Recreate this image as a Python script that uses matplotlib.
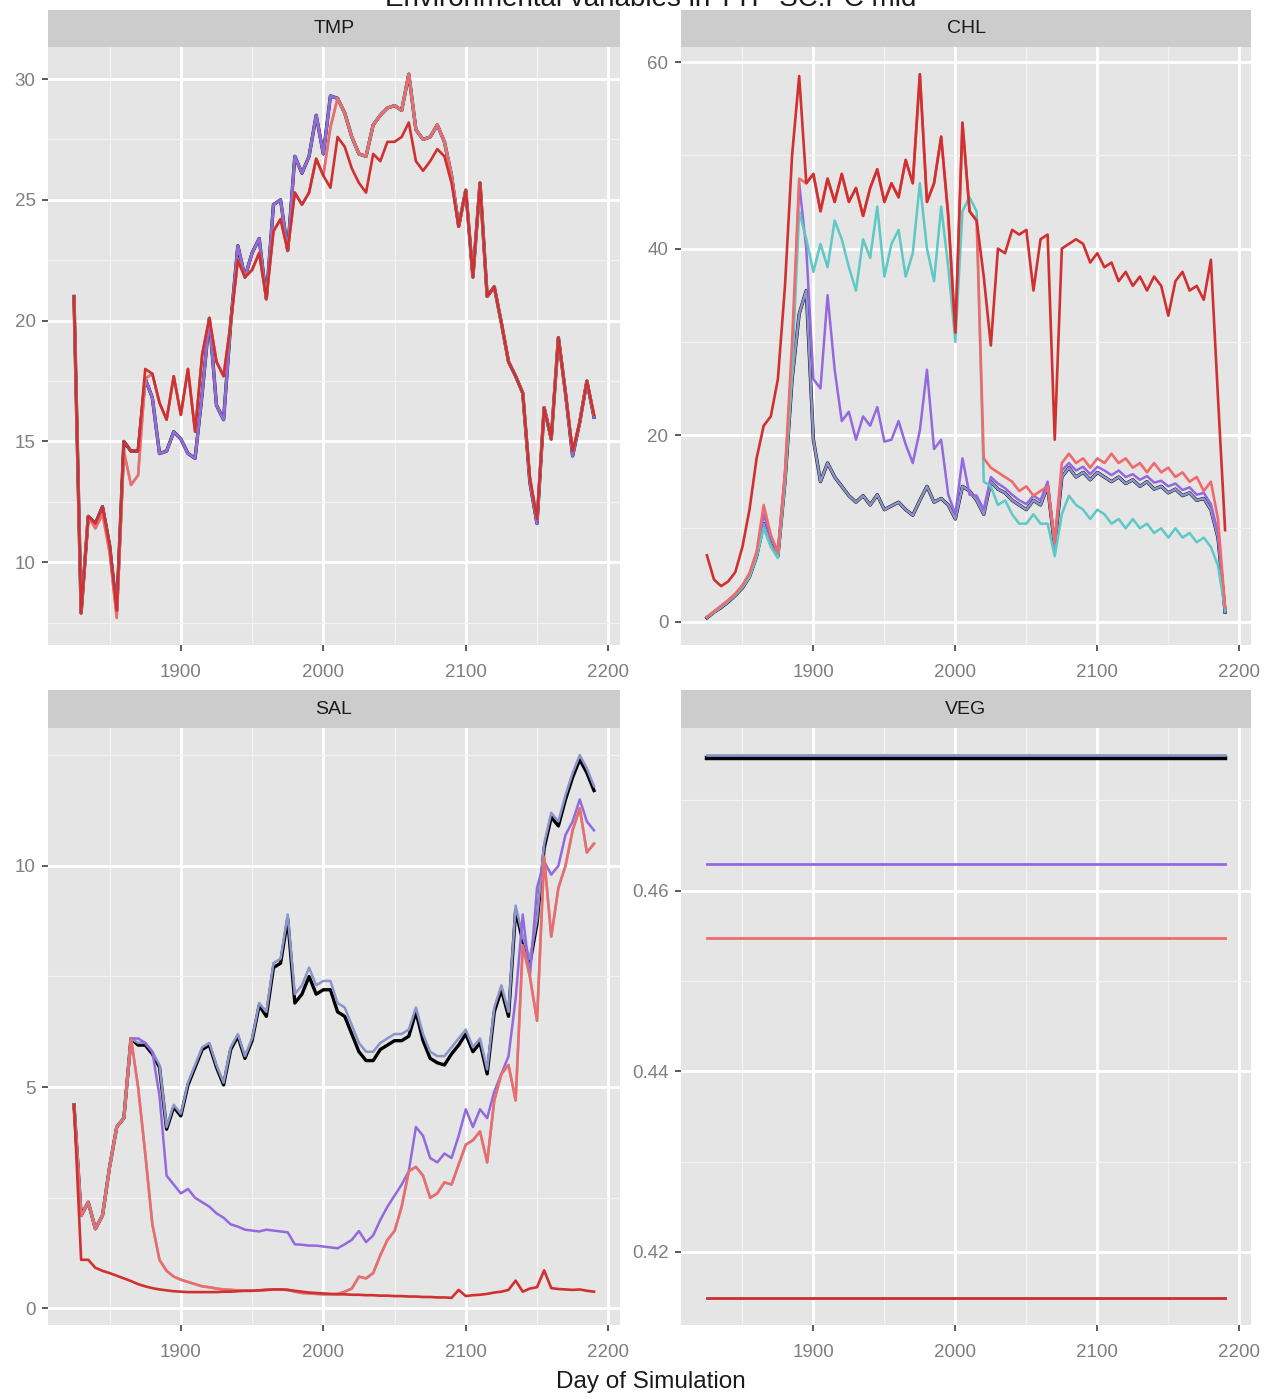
import matplotlib
matplotlib.use("Agg")
from matplotlib import pyplot as plt
from matplotlib.ticker import FixedLocator, FormatStrFormatter

plt.rcParams['font.family'] = ['Liberation Sans', 'DejaVu Sans']

# day of simulation, every 5 days
days = list(range(1825, 2195, 5))

# TMP
tmp_red = [21.0, 7.9, 11.9, 11.6, 12.3, 10.7, 8.0, 15.0, 14.6, 14.6,
           18.0, 17.8, 16.6, 15.9, 17.7, 16.1, 18.0, 15.4, 18.6, 20.1,
           18.3, 17.7, 19.9, 22.5, 21.8, 22.1, 22.8, 20.9, 23.7, 24.2,
           22.9, 25.3, 24.8, 25.3, 26.7, 26.0, 25.5, 27.6, 27.2, 26.3,
           25.7, 25.3, 26.9, 26.6, 27.4, 27.4, 27.6, 28.2, 26.6, 26.2,
           26.6, 27.1, 26.8, 25.7, 23.9, 25.4, 21.8, 25.7, 21.0, 21.4,
           19.9, 18.3, 17.7, 17.0, 13.5, 11.8, 16.4, 15.1, 19.3, 17.0,
           14.6, 15.8, 17.5, 16.1]
tmp_salmon = [21.0, 7.9, 11.9, 11.4, 12.0, 10.4, 7.7, 14.6, 13.2, 13.6,
              17.6, 17.8, 16.6, 15.9, 17.7, 16.1, 18.0, 15.4, 18.6, 20.1,
              18.3, 17.7, 19.9, 22.5, 21.8, 22.1, 22.8, 20.9, 23.7, 24.2,
              22.9, 25.3, 24.8, 25.3, 26.7, 26.0, 28.0, 29.2, 28.6, 27.6,
              26.9, 26.8, 28.1, 28.5, 28.8, 28.9, 28.7, 30.2, 27.9, 27.5,
              27.6, 28.1, 27.4, 26.0, 23.9, 25.4, 21.8, 25.7, 21.0, 21.4,
              19.9, 18.3, 17.7, 17.0, 13.5, 11.8, 16.4, 15.1, 19.3, 17.0,
              14.6, 15.8, 17.5, 16.1]
tmp_purple = [21.0, 7.9, 11.9, 11.6, 12.3, 10.7, 8.0, 15.0, 14.6, 14.6,
              17.6, 16.8, 14.5, 14.6, 15.4, 15.1, 14.5, 14.3, 17.0, 20.1,
              16.5, 15.9, 19.9, 23.1, 21.8, 22.8, 23.4, 20.9, 24.8, 25.0,
              22.9, 26.8, 26.1, 26.8, 28.5, 26.9, 29.3, 29.2, 28.6, 27.6,
              26.9, 26.8, 28.1, 28.5, 28.8, 28.9, 28.7, 30.2, 27.9, 27.5,
              27.6, 28.1, 27.4, 26.0, 23.9, 25.4, 21.8, 25.7, 21.0, 21.4,
              19.9, 18.3, 17.7, 17.0, 13.3, 11.6, 16.4, 15.1, 19.3, 17.0,
              14.4, 15.8, 17.5, 16.0]

# CHL
chl_red = [7.1, 4.5, 3.8, 4.3, 5.3, 8.0, 12.0, 17.5, 21.0, 22.0,
           26.0, 36.0, 50.0, 58.5, 47.0, 48.0, 44.0, 47.5, 45.0, 48.0,
           45.0, 46.5, 43.5, 46.5, 48.5, 45.0, 47.0, 45.5, 49.5, 47.0,
           58.7, 45.0, 47.0, 52.0, 43.5, 31.0, 53.5, 44.0, 43.0, 37.0,
           29.6, 40.0, 39.5, 42.0, 41.5, 42.0, 35.5, 41.0, 41.5, 19.5,
           40.0, 40.5, 41.0, 40.5, 38.5, 39.5, 38.0, 38.5, 36.5, 37.5,
           36.0, 37.0, 35.5, 37.0, 36.0, 32.8, 36.5, 37.5, 35.5, 36.0,
           34.5, 38.8, 24.0, 9.8]
chl_salmon = [0.5, 1.1, 1.7, 2.3, 3.0, 3.9, 5.2, 7.5, 12.5, 9.3,
              7.4, 16.0, 30.0, 47.5, 47.0, 48.0, 44.0, 47.5, 45.0, 48.0,
              45.0, 46.5, 43.5, 46.5, 48.5, 45.0, 47.0, 45.5, 49.5, 47.0,
              58.7, 45.0, 47.0, 52.0, 43.5, 31.0, 53.5, 44.0, 43.0, 17.5,
              16.5, 16.0, 15.5, 15.0, 14.0, 14.5, 13.5, 14.0, 14.5, 8.5,
              17.0, 18.0, 17.0, 17.5, 16.5, 17.5, 17.0, 18.0, 17.0, 17.5,
              16.5, 17.0, 16.0, 17.0, 16.0, 16.5, 15.5, 16.0, 15.0, 15.5,
              14.0, 15.0, 11.0, 1.5]
chl_cyan = [0.5, 1.0, 1.6, 2.2, 2.9, 3.7, 4.8, 7.0, 10.0, 8.0,
            6.8, 15.0, 27.0, 44.0, 41.0, 37.5, 40.5, 38.0, 43.0, 41.0,
            38.0, 35.5, 41.0, 39.0, 44.5, 37.0, 40.5, 42.0, 37.0, 39.5,
            47.0, 40.0, 36.5, 44.5, 38.0, 30.0, 44.0, 45.5, 44.0, 15.0,
            14.5, 12.5, 13.0, 11.5, 10.5, 10.5, 11.5, 10.5, 10.5, 7.0,
            11.5, 13.5, 12.5, 12.0, 11.0, 12.0, 11.5, 10.5, 11.0, 10.0,
            11.0, 10.0, 10.5, 9.5, 10.0, 9.0, 10.0, 9.0, 9.5, 8.5,
            9.0, 8.0, 6.0, 1.2]
chl_purple = [0.5, 1.0, 1.6, 2.2, 2.9, 3.7, 5.0, 7.3, 11.5, 9.0,
              7.6, 16.0, 28.0, 47.0, 40.0, 26.0, 25.0, 35.0, 27.0, 21.5,
              22.5, 19.5, 22.0, 21.0, 23.0, 19.3, 19.5, 21.5, 19.0, 17.0,
              20.5, 27.0, 18.5, 19.5, 13.6, 11.5, 17.5, 13.6, 13.5, 12.0,
              15.5, 14.8, 14.3, 13.6, 13.0, 12.6, 13.5, 13.0, 15.0, 8.5,
              16.2, 17.0, 16.2, 16.6, 15.8, 16.6, 16.2, 15.7, 16.2, 15.5,
              15.8, 15.2, 15.6, 14.9, 15.1, 14.5, 14.8, 14.1, 14.4, 13.6,
              13.8, 12.6, 9.5, 1.2]
chl_black = [0.4, 1.0, 1.5, 2.1, 2.8, 3.6, 4.8, 7.0, 10.5, 8.3,
             7.0, 15.0, 26.0, 33.0, 35.5, 19.5, 15.0, 17.0, 15.5, 14.5,
             13.5, 12.8, 13.5, 12.5, 13.6, 12.0, 12.4, 12.8, 12.0, 11.4,
             13.0, 14.5, 12.8, 13.2, 12.5, 11.0, 14.5, 14.0, 13.0, 11.5,
             15.0, 14.2, 13.8, 13.0, 12.5, 12.0, 13.0, 12.5, 14.5, 8.0,
             15.5, 16.5, 15.5, 16.0, 15.2, 16.0, 15.5, 15.0, 15.5, 14.8,
             15.2, 14.5, 15.0, 14.2, 14.5, 13.8, 14.2, 13.5, 13.8, 13.0,
             13.2, 12.0, 9.0, 1.0]

# SAL
sal_red = [4.6, 1.1, 1.1, 0.92, 0.85, 0.80, 0.74, 0.68, 0.62, 0.55,
           0.50, 0.46, 0.43, 0.41, 0.39, 0.38, 0.37, 0.37, 0.37, 0.37,
           0.37, 0.38, 0.38, 0.39, 0.40, 0.40, 0.41, 0.42, 0.43, 0.43,
           0.42, 0.40, 0.38, 0.36, 0.35, 0.34, 0.33, 0.32, 0.32, 0.31,
           0.31, 0.30, 0.30, 0.29, 0.29, 0.28, 0.28, 0.27, 0.27, 0.26,
           0.26, 0.25, 0.25, 0.24, 0.42, 0.28, 0.30, 0.31, 0.33, 0.36,
           0.38, 0.42, 0.63, 0.38, 0.45, 0.48, 0.86, 0.46, 0.44, 0.43,
           0.42, 0.43, 0.40, 0.38]
sal_salmon = [4.6, 2.1, 2.4, 1.8, 2.1, 3.2, 4.1, 4.3, 6.1, 5.0,
              3.5, 1.9, 1.1, 0.85, 0.72, 0.65, 0.60, 0.55, 0.50, 0.48,
              0.45, 0.43, 0.42, 0.41, 0.40, 0.40, 0.41, 0.42, 0.43, 0.43,
              0.42, 0.38, 0.35, 0.34, 0.33, 0.32, 0.32, 0.33, 0.38, 0.45,
              0.72, 0.68, 0.80, 1.20, 1.55, 1.75, 2.30, 3.10, 3.20, 3.00,
              2.50, 2.60, 2.85, 2.80, 3.25, 3.70, 3.80, 4.00, 3.30, 4.70,
              5.30, 5.50, 4.70, 8.20, 7.50, 6.50, 10.2, 8.40, 9.50, 10.0,
              10.8, 11.3, 10.3, 10.5]
sal_purple = [4.6, 2.1, 2.4, 1.8, 2.1, 3.2, 4.1, 4.3, 6.1, 6.1,
              6.0, 5.8, 4.8, 3.0, 2.8, 2.6, 2.7, 2.5, 2.4, 2.3,
              2.15, 2.05, 1.9, 1.85, 1.78, 1.76, 1.74, 1.78, 1.76, 1.74,
              1.72, 1.45, 1.44, 1.42, 1.42, 1.40, 1.38, 1.36, 1.45, 1.55,
              1.75, 1.50, 1.65, 2.00, 2.30, 2.55, 2.80, 3.10, 4.10, 3.90,
              3.40, 3.30, 3.50, 3.40, 3.90, 4.50, 4.10, 4.50, 4.30, 4.90,
              5.30, 5.70, 7.00, 8.90, 7.50, 9.50, 10.1, 9.80, 10.0, 10.7,
              11.0, 11.5, 11.0, 10.8]
sal_bluegray = [4.6, 2.1, 2.4, 1.8, 2.1, 3.2, 4.1, 4.3, 6.1, 6.0,
                6.0, 5.8, 5.5, 4.1, 4.6, 4.4, 5.1, 5.5, 5.9, 6.0,
                5.5, 5.1, 5.9, 6.2, 5.7, 6.1, 6.9, 6.7, 7.8, 7.9,
                8.9, 7.1, 7.3, 7.7, 7.3, 7.4, 7.4, 6.9, 6.8, 6.4,
                6.0, 5.8, 5.8, 6.0, 6.1, 6.2, 6.2, 6.3, 6.8, 6.2,
                5.8, 5.7, 5.7, 5.9, 6.1, 6.3, 5.9, 6.1, 5.4, 6.8,
                7.3, 6.7, 9.1, 8.4, 7.9, 8.8, 10.5, 11.2, 11.0, 11.6,
                12.1, 12.5, 12.2, 11.8]
sal_black = [4.6, 2.1, 2.4, 1.8, 2.1, 3.2, 4.1, 4.3, 6.1, 5.95,
             5.95, 5.75, 5.45, 4.05, 4.55, 4.35, 5.05, 5.45, 5.85, 5.95,
             5.45, 5.05, 5.85, 6.15, 5.65, 6.05, 6.85, 6.6, 7.7, 7.8,
             8.8, 6.9, 7.1, 7.5, 7.1, 7.2, 7.2, 6.7, 6.6, 6.2,
             5.8, 5.6, 5.6, 5.85, 5.95, 6.05, 6.05, 6.15, 6.7, 6.05,
             5.65, 5.55, 5.5, 5.75, 5.95, 6.2, 5.8, 6.0, 5.3, 6.7,
             7.2, 6.6, 9.0, 8.3, 7.8, 8.7, 10.4, 11.1, 10.9, 11.5,
             12.0, 12.4, 12.1, 11.7]

# VEG (constant over the run)
veg_black = 0.4747
veg_bluegray = 0.4750
veg_purple = 0.4629
veg_cyan = 0.4149
veg_salmon = 0.4547
veg_red = 0.4149

# drawing order: first is at the bottom
series_names = ["black", "bluegray", "purple", "cyan", "salmon", "red"]
colors = {"black": "#000000", "bluegray": "#8b95c9", "purple": "#9468de",
          "cyan": "#5cc9c4", "salmon": "#f06a6c", "red": "#d0302f"}
widths = {"black": 2.4, "bluegray": 1.8, "purple": 1.8,
          "cyan": 1.8, "salmon": 1.9, "red": 1.9}

panels = {
    "TMP": {"black": tmp_purple, "bluegray": tmp_purple, "purple": tmp_purple,
            "cyan": tmp_salmon, "salmon": tmp_salmon, "red": tmp_red},
    "CHL": {"black": chl_black, "bluegray": chl_black, "purple": chl_purple,
            "cyan": chl_cyan, "salmon": chl_salmon, "red": chl_red},
    "SAL": {"black": sal_black, "bluegray": sal_bluegray, "purple": sal_purple,
            "cyan": sal_salmon, "salmon": sal_salmon, "red": sal_red},
    "VEG": {"black": [veg_black] * len(days), "bluegray": [veg_bluegray] * len(days),
            "purple": [veg_purple] * len(days), "cyan": [veg_cyan] * len(days),
            "salmon": [veg_salmon] * len(days), "red": [veg_red] * len(days)},
}

yticks = {"TMP": ([10, 15, 20, 25, 30], [7.5, 12.5, 17.5, 22.5, 27.5]),
          "CHL": ([0, 20, 40, 60], [10, 30, 50]),
          "SAL": ([0, 5, 10], [2.5, 7.5, 12.5]),
          "VEG": ([0.42, 0.44, 0.46], [0.41, 0.43, 0.45, 0.47])}

W, H = 1268, 1400
fig = plt.figure(figsize=(W / 100, H / 100), dpi=100)

# panel boxes in pixels: left, right, strip top, panel top, panel bottom
boxes = {"TMP": (48, 620, 10, 47, 645),
         "CHL": (681, 1251, 10, 47, 645),
         "SAL": (48, 620, 690, 728, 1325),
         "VEG": (681, 1251, 690, 728, 1325)}

for name, (l, r, st, pt, pb) in boxes.items():
    ax = fig.add_axes([l / W, 1 - pb / H, (r - l) / W, (pb - pt) / H])
    ax.set_facecolor("#e5e5e5")
    for key in series_names:
        vals = panels[name][key]
        lw = widths[key]
        if name == "VEG":
            lw = 3.2 if key == "black" else 2.0
        ax.plot(days, vals, color=colors[key], lw=lw, solid_joinstyle="round")
    ax.margins(x=0.05, y=0.05)
    ax.xaxis.set_major_locator(FixedLocator([1900, 2000, 2100, 2200]))
    ax.xaxis.set_minor_locator(FixedLocator([1850, 1950, 2050, 2150]))
    ax.yaxis.set_major_locator(FixedLocator(yticks[name][0]))
    ax.yaxis.set_minor_locator(FixedLocator(yticks[name][1]))
    if name == "VEG":
        ax.yaxis.set_major_formatter(FormatStrFormatter("%.2f"))
    ax.grid(which="major", color="white", lw=2.0)
    ax.grid(which="minor", color="#f2f2f2", lw=0.9)
    ax.set_axisbelow(True)
    for s in ax.spines.values():
        s.set_visible(False)
    ax.tick_params(which="major", length=4, width=1.3, color="#4d4d4d",
                   labelsize=13.5, labelcolor="#7f7f7f", pad=5)
    ax.tick_params(axis="x", which="major", pad=10)
    ax.tick_params(which="minor", length=0)

    # facet strip
    sax = fig.add_axes([l / W, 1 - pt / H, (r - l) / W, (pt - st) / H])
    sax.set_facecolor("#cccccc")
    sax.set_xticks([])
    sax.set_yticks([])
    for s in sax.spines.values():
        s.set_visible(False)
    sax.text(0.5, 0.5, name, ha="center", va="center", fontsize=14, color="#1a1a1a")

fig.text(0.513, 1 - 6 / H, "Environmental variables in TTP-SC:PC mid",
         ha="center", va="baseline", fontsize=20, color="#1a1a1a")
fig.text(0.513, 1 - 1382 / H, "Day of Simulation", ha="center", va="center",
         fontsize=17.5, color="#1a1a1a")

fig.savefig("out.png", dpi=100)
